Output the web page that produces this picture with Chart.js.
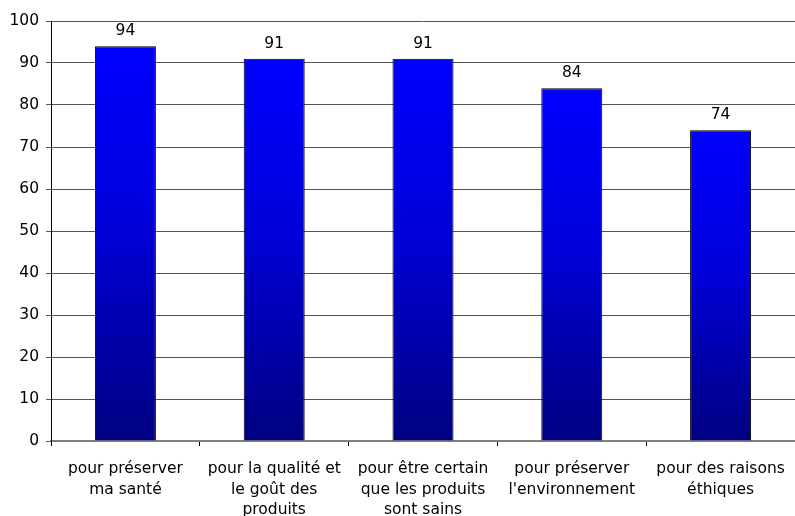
<!DOCTYPE html>
<html>
<head>
<meta charset="utf-8">
<script src="https://cdn.jsdelivr.net/npm/chart.js@4"></script>
<style>
  html, body { margin: 0; padding: 0; background: #fff; }
  #wrap { width: 795px; height: 516px; }
</style>
</head>
<body>
<div id="wrap"><canvas id="myChart"></canvas></div>
<script>
var categories = [
    ['pour préserver', 'ma santé'],
    ['pour la qualité et', 'le goût des', 'produits'],
    ['pour être certain', 'que les produits', 'sont sains'],
    ['pour préserver', "l'environnement"],
    ['pour des raisons', 'éthiques']
];
var values = [94, 91, 91, 84, 74];
var yTicks = [0, 10, 20, 30, 40, 50, 60, 70, 80, 90, 100];

var FONT = 'DejaVu Sans';
var FONT_SIZE = 15.5;

// blue -> navy fill for each bar, from its top down to the axis
function barFill(context) {
    var chart = context.chart;
    var y = chart.scales.y;
    if (!chart.chartArea || !y) return '#0000ff';
    var top = y.getPixelForValue(values[context.dataIndex]);
    var bottom = y.getPixelForValue(0);
    var g = chart.ctx.createLinearGradient(0, top, 0, bottom);
    g.addColorStop(0, '#0000ff');
    g.addColorStop(0.45, '#0000da');
    g.addColorStop(1, '#000080');
    return g;
}

// value printed above each bar
var valueLabels = {
    id: 'valueLabels',
    afterDatasetsDraw: function(chart) {
        var ctx = chart.ctx;
        var meta = chart.getDatasetMeta(0);
        ctx.save();
        ctx.font = FONT_SIZE + 'px "' + FONT + '"';
        ctx.fillStyle = '#000';
        ctx.textAlign = 'center';
        ctx.textBaseline = 'middle';
        meta.data.forEach(function(bar, i) {
            ctx.fillText(values[i], bar.x, bar.y - 15);
        });
        ctx.restore();
    }
};

var ctx = document.getElementById('myChart').getContext('2d');
var myChart = new Chart(ctx, {
    type: 'bar',
    data: {
        labels: categories,
        datasets: [{
            data: values,
            backgroundColor: barFill,
            borderColor: '#000',
            borderWidth: 1,
            borderSkipped: 'bottom',
            categoryPercentage: 1,
            barPercentage: 0.41
        }]
    },
    options: {
        responsive: true,
        maintainAspectRatio: false,
        animation: false,
        layout: { padding: { top: 21, right: 0, left: 0, bottom: 0 } },
        plugins: {
            legend: { display: false },
            tooltip: { enabled: false }
        },
        scales: {
            x: {
                grid: {
                    display: true,
                    offset: true,
                    drawOnChartArea: false,
                    drawTicks: true,
                    tickLength: 5,
                    color: '#000'
                },
                border: { color: '#808080', width: 2 },
                ticks: {
                    maxRotation: 0,
                    autoSkip: false,
                    padding: 13,
                    color: '#000',
                    font: { family: FONT, size: FONT_SIZE, lineHeight: 1.32 }
                },
                afterFit: function(scale) {
                    scale.height = 75;
                    scale.paddingLeft = 0;
                    scale.paddingRight = 0;
                }
            },
            y: {
                min: 0,
                max: 100,
                afterBuildTicks: function(scale) {
                    scale.ticks = yTicks.map(function(v) { return { value: v }; });
                },
                grid: {
                    color: '#555',
                    lineWidth: 1,
                    drawTicks: true,
                    tickLength: 5
                },
                border: { color: '#000', width: 1 },
                ticks: {
                    padding: 7,
                    color: '#000',
                    font: { family: FONT, size: FONT_SIZE }
                },
                afterFit: function(scale) { scale.width = 51; }
            }
        }
    },
    plugins: [valueLabels]
});
</script>
</body>
</html>
